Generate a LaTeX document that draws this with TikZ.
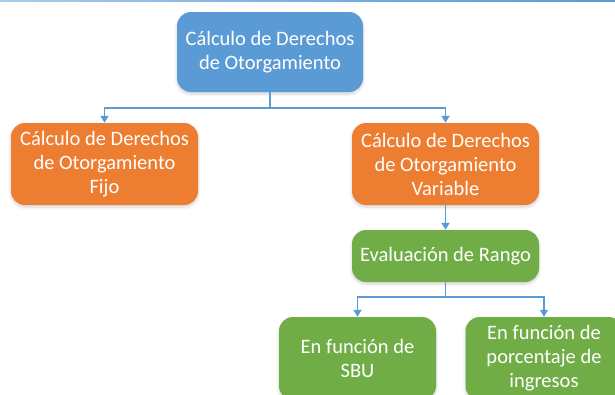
\documentclass[tikz,border=0pt]{standalone}
\usepackage{fontspec}
\setmainfont{Carlito}
\usetikzlibrary{arrows.meta,shadows.blur}
\definecolor{cblue}{HTML}{5B9BD5}
\definecolor{corange}{HTML}{ED7D31}
\definecolor{cgreen}{HTML}{70AD47}
\definecolor{clight}{HTML}{A9CBEA}
\tikzset{
  box/.style={rounded corners=14pt, draw=none, text=white, align=center,
    inner sep=0pt, font=\fontsize{20.5}{24}\selectfont,
    blur shadow={shadow blur steps=6, shadow xshift=0pt, shadow yshift=-2pt, shadow opacity=18, shadow blur radius=3pt}},
  bluebox/.style={box, fill=cblue},
  orangebox/.style={box, fill=corange},
  greenbox/.style={box, fill=cgreen},
  conn/.style={draw=cblue, line width=1.5pt, -{Triangle[width=8pt,length=7pt]}},
}
\begin{document}
\begin{tikzpicture}[x=1pt,y=-1pt]
\useasboundingbox (0,0) rectangle (615,394);
\clip (0,0) rectangle (615,394);
\shade[left color=clight, right color=cblue, middle color=cblue!80] (0,0) rectangle (615,1.6);
\node[bluebox, minimum width=186pt, minimum height=80pt] (top) at (270,52)
  {Cálculo de Derechos\\de Otorgamiento};
\node[orangebox, minimum width=187pt, minimum height=82pt] (fijo) at (104.5,164)
  {Cálculo de Derechos\\de Otorgamiento\\Fijo};
\node[orangebox, minimum width=187pt, minimum height=82pt] (var) at (445.5,164)
  {Cálculo de Derechos\\de Otorgamiento\\Variable};
\node[greenbox, minimum width=187pt, minimum height=52pt] (rango) at (445.5,256)
  {Evaluación de Rango};
\node[greenbox, minimum width=157pt, minimum height=83pt] (sbu) at (357.5,358.5)
  {En función de\\SBU};
\node[greenbox, minimum width=157pt, minimum height=83pt] (ing) at (544,358.5)
  {En función de\\porcentaje de\\ingresos};
\coordinate (j1) at (270,108);
\coordinate (j2) at (445.5,297);
\draw[conn] (top.south) -- (j1) -| (fijo.north);
\draw[conn] (j1) -| (var.north);
\draw[conn] (var.south) -- (rango.north);
\draw[conn] (rango.south) -- (j2) -| (sbu.north);
\draw[conn] (j2) -| (ing.north);
\end{tikzpicture}
\end{document}
